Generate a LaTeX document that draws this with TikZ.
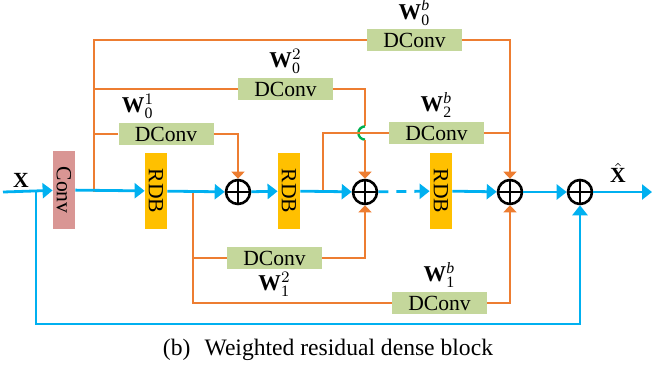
\documentclass[tikz,border=0pt]{standalone}
\usepackage{amsmath}
\usepackage{graphicx}
\usepackage{fontspec}
\setmainfont{Liberation Serif}
\usepackage{tikz}
\usetikzlibrary{arrows.meta, positioning}

\definecolor{cyanline}{RGB}{0,176,240}
\definecolor{orangeline}{RGB}{237,125,49}
\definecolor{convfill}{RGB}{217,150,148}
\definecolor{rdbfill}{RGB}{255,192,0}
\definecolor{dcfill}{RGB}{196,215,155}
\definecolor{jumpgreen}{RGB}{0,176,80}

\newcommand{\wlab}[2]{$\textbf{W}^{#2}_{\text{#1}}$}

\begin{document}
\begin{tikzpicture}[
  x=0.5pt, y=-0.5pt,
  convbox/.style={rectangle, fill=convfill, minimum width=11pt, minimum height=39pt,
                  inner sep=0pt, font=\fontsize{10.8pt}{12pt}\selectfont},
  rdbbox/.style={rectangle, fill=rdbfill, minimum width=11pt, minimum height=38pt,
                 inner sep=0pt, font=\fontsize{10.8pt}{12pt}\selectfont},
  dcbox/.style={rectangle, fill=dcfill, minimum width=47.5pt, minimum height=11pt,
                inner sep=0pt, font=\fontsize{10.8pt}{12pt}\selectfont},
  sumnode/.style={circle, draw=black, line width=1.3pt, minimum size=12pt, inner sep=0pt,
                  path picture={\draw[line width=1pt]
                    (path picture bounding box.north) -- (path picture bounding box.south)
                    (path picture bounding box.west) -- (path picture bounding box.east);}},
  wlabel/.style={inner sep=0pt, font=\fontsize{11.3pt}{13pt}\selectfont},
  cline/.style={cyanline, line width=1.4pt},
  carrow/.style={cline, -{Triangle[length=5pt, width=7.5pt]}},
  oline/.style={orangeline, line width=1.3pt},
  oarrow/.style={oline, -{Triangle[length=3.5pt, width=6.5pt]}},
  jump/.style={jumpgreen, line width=1.2pt}
]
\useasboundingbox (0,0) rectangle (654,372);

% main chain
\node[convbox] (conv) at (64,190) {\rotatebox{-90}{Conv}};
\node[rdbbox] (rdb1) at (156,191) {\rotatebox{-90}{RDB}};
\node[sumnode] (op1) at (238,192) {};
\node[rdbbox] (rdb2) at (289,191) {\rotatebox{-90}{RDB}};
\node[sumnode] (op2) at (365,192) {};
\node[rdbbox] (rdb3) at (441,191) {\rotatebox{-90}{RDB}};
\node[sumnode] (op3) at (510,192) {};
\node[sumnode] (op4) at (580,192) {};

\coordinate (in)  at (3,192);
\coordinate (out) at (652,192);
\coordinate (s0)  at (36,192);
\coordinate (sk)  at (36,324);
\coordinate (b0)  at (94,192);
\coordinate (b1)  at (193,192);
\coordinate (b2)  at (323,192);

\node[font=\fontsize{10.8pt}{12pt}\selectfont, inner sep=0pt] (xin) at (21,180) {\textbf{X}};
\node[font=\fontsize{10.8pt}{12pt}\selectfont, inner sep=0pt] (xout) at (618,173) {$\hat{\textbf{X}}$};

% weighted branches
\node[dcbox] (dc0b) at (414.5,40)  {DConv};
\node[dcbox] (dc02) at (285.5,89)  {DConv};
\node[dcbox] (dc01) at (166,134)   {DConv};
\node[dcbox] (dc2b) at (436.5,133) {DConv};
\node[dcbox] (dc12) at (274.5,258) {DConv};
\node[dcbox] (dc1b) at (439.5,303) {DConv};

\node[wlabel, above=1.5pt of dc0b] (w0b) {\wlab{0}{\textit{b}}};
\node[wlabel, above=2pt of dc02] (w02) {\wlab{0}{2}};
\node[wlabel, above=2pt of dc01, xshift=-14pt] (w01) {\wlab{0}{1}};
\node[wlabel, above=2pt of dc2b] (w2b) {\wlab{2}{\textit{b}}};
\node[wlabel, below=1pt of dc12] (w12) {\wlab{1}{2}};
\node[wlabel, above=2pt of dc1b] (w1b) {\wlab{1}{\textit{b}}};

\coordinate (jc) at (op2 |- dc2b);

% orange connectors
\draw[oline] (b0) |- (dc0b.west);
\draw[oarrow] (dc0b.east) -| (op3.north);
\draw[oline] (b0 |- dc02) -- (dc02.west);
\draw[oline] (dc02.east) -| ([yshift=3.3pt]jc);
\draw[jump] ([yshift=3.3pt]jc) arc[start angle=90, end angle=270, radius=3.3pt];
\draw[oarrow] ([yshift=-3.3pt]jc) -- (op2.north);
\draw[oline] (b0 |- dc01) -- (dc01.west);
\draw[oarrow] (dc01.east) -| (op1.north);
\draw[oline] (b2) |- (dc2b.west);
\draw[oline] (dc2b.east) -- (dc2b.east -| op3);
\draw[oline] (b1) |- (dc1b.west);
\draw[oarrow] (dc1b.east) -| (op3.south);
\draw[oline] (b1 |- dc12) -- (dc12.west);
\draw[oarrow] (dc12.east) -| (op2.south);

% cyan connectors
\draw[carrow] (in) -- (conv);
\draw[carrow] (conv) -- (rdb1);
\draw[carrow] (rdb1) -- (op1);
\draw[carrow] (op1) -- (rdb2);
\draw[carrow] (rdb2) -- (op2);
\draw[carrow, dash pattern=on 5pt off 4pt] (op2) -- (rdb3);
\draw[carrow] (rdb3) -- (op3);
\draw[carrow] (op3) -- (op4);
\draw[carrow] (op4) -- (out);
\draw[carrow] (s0) -- (sk) -| (op4.south);

\node[font=\fontsize{11.8pt}{13pt}\selectfont] (cap) at (328,350) {(b)\hspace{0.6em}Weighted residual dense block};
\end{tikzpicture}
\end{document}
